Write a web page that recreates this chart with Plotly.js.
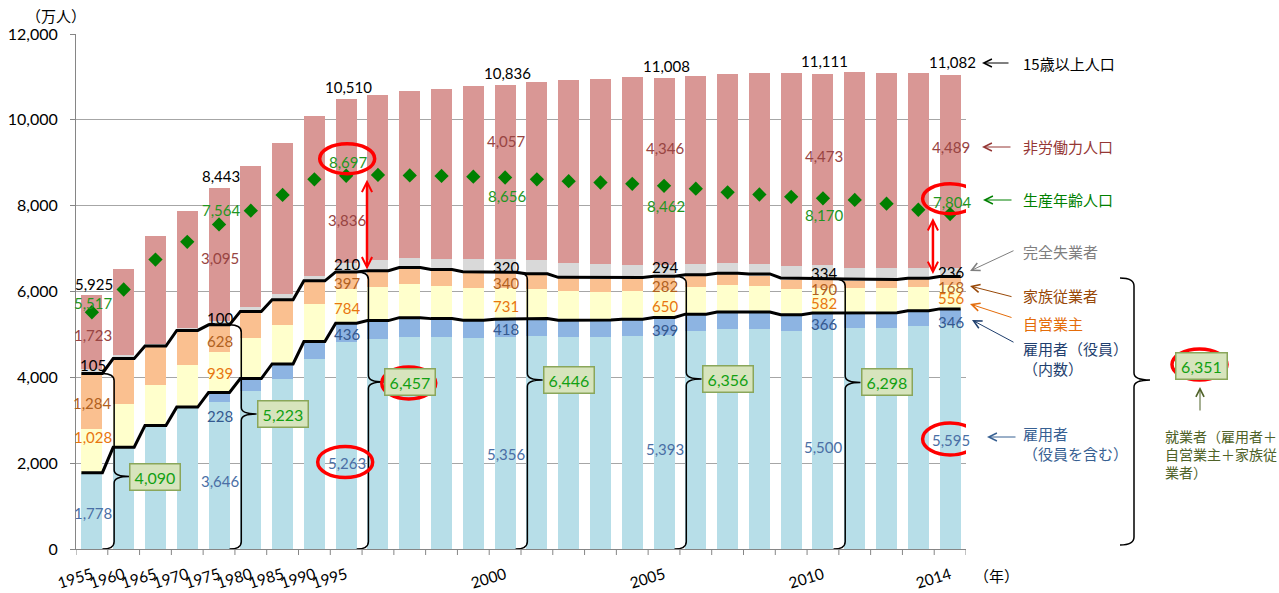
<!DOCTYPE html>
<html><head><meta charset="utf-8">
<script src="https://cdn.plot.ly/plotly-3.0.1.min.js"></script>
<style>html,body{margin:0;padding:0;background:#fff;}#chart{width:1279px;height:593px;}</style>
</head><body><div id="chart"></div>
<script>
// ---------------- DATA (万人) ----------------
const years = ['1955','1960','1965','1970','1975','1980','1985','1990','1995','1996','1997','1998','1999','2000','2001','2002','2003','2004','2005','2006','2007','2008','2009','2010','2011','2012','2013','2014'];
const tickYears = ['1955','1960','1965','1970','1975','1980','1985','1990','1995','2000','2005','2010','2014'];
const labelYears = ['1955','1975','1995','2000','2005','2010','2014'];
const boxYears = ['1955','1975','1995','2000','2005','2010'];
// 15歳以上人口
const pop15 = [5925,6520,7287,7885,8443,8932,9465,10089,10510,10571,10661,10728,10783,10836,10886,10927,10962,10990,11008,11030,11066,11086,11099,11111,11117,11098,11088,11082];
// 生産年齢人口
const workingAge = [5517,6047,6744,7157,7564,7884,8251,8614,8697,8716,8704,8692,8676,8656,8614,8571,8540,8508,8462,8395,8312,8260,8205,8170,8134,8046,7905,7804];
// 非労働力人口
const nonLabor = [1723,2009,2500,2738,3095,3293,3521,3725,3836,3847,3878,3963,4031,4057,4159,4262,4321,4376,4346,4382,4404,4449,4504,4473,4559,4556,4539,4489];
// 完全失業者
const unemployed = [105,75,57,59,100,114,156,134,210,225,230,279,317,320,340,359,350,313,294,275,257,265,336,334,302,285,265,236];
// 家族従業者
const familyWorkers = [1284,1060,915,805,628,603,559,517,397,383,370,357,350,340,325,305,296,290,282,268,254,239,207,190,174,182,174,168];
// 自営業主
const selfEmployed = [1028,1006,939,977,939,951,916,878,784,794,792,761,754,731,693,670,660,656,650,633,628,609,592,582,570,571,557,556];
// 雇用者（役員）（内数）
const officers = [null,null,null,null,228,282,345,400,436,440,444,430,420,418,405,400,395,398,399,397,392,388,380,366,362,355,350,346];
// 雇用者（役員を含む）
const employees = [1778,2370,2876,3306,3646,3971,4313,4835,5263,5322,5391,5368,5331,5356,5369,5331,5335,5355,5393,5472,5523,5524,5460,5500,5512,5504,5553,5595];
// 就業者
const employed = [4090,4436,4730,5094,5223,5536,5807,6249,6457,6486,6557,6514,6462,6446,6412,6330,6316,6329,6356,6389,6427,6409,6314,6298,6293,6280,6311,6351];

// ---------------- LAYOUT POSITIONS (not data) ----------------
// label y-positions (axis units) for labelYears
const posGreen   = [5732,7899,9024,8232,7999,7782,8092];
const posNonLab  = [4986,6773,7666,9513,9336,9157,9374];
const posUnemp   = [4287,5375,6641,6578,6564,6424,6461];
const posFamily  = [3409,4853,6205,6191,6135,6065,6112];
const posSelf    = [2617,4094,5608,5669,5669,5739,5841];
const posOfficer = [null,3099,5010,5119,5103,5243,5296];
const posEmpl    = [832,1592,2004,2214,2323,2384,2540];
const posBox     = [1689,3146,3891,3938,3961,3880];

const C = {
  lblue:'#B7DEE8', dblue:'#8DB4E2', yellow:'#FFFFCC', peach:'#FAC090', grey:'#D9D9D9', pink:'#D99795',
  green:'#008000', tGreen:'#1F961F', tNon:'#984442', tFam:'#B0601E', tSelf:'#E8760F', tOff:'#34598F', tEmp:'#4A6FA5',
  axis:'#868686', grid:'#A6A6A6'
};
const FONT = 'Lato, "Noto Sans CJK JP", sans-serif';
const JP = '"Noto Sans CJK JP", Lato, sans-serif';
const fmt = v => v.toLocaleString('en-US');
const X = years.map((_, i) => i);
const idx = y => years.indexOf(y);

// plot geometry helpers for out-of-plot decorations
const L = 76, T = 34, W = 890, H = 515;
const PX = x => (x - L) / W;
const PY = y => (T + H - y) / H;

// ---------------- TRACES ----------------
const bar = (y, color) => ({type:'bar', x:X, y:y, marker:{color:color, line:{width:0}}, hoverinfo:'skip'});
const traces = [
  bar(employees.map((v, i) => v - (officers[i] || 0)), C.lblue),
  bar(officers.map(v => v || 0), C.dblue),
  bar(selfEmployed, C.yellow),
  bar(familyWorkers, C.peach),
  bar(unemployed, C.grey),
  bar(nonLabor, C.pink)
];
function stepLine(vals) {
  const xs = [], ys = [];
  vals.forEach((v, i) => { xs.push(i - 0.33, i + 0.33); ys.push(v, v); });
  return {type:'scatter', mode:'lines', x:xs, y:ys, line:{color:'#000', width:3}, hoverinfo:'skip'};
}
traces.push(stepLine(employees));
traces.push(stepLine(employed));
traces.push({type:'scatter', mode:'markers', x:X, y:workingAge,
  marker:{symbol:'diamond', size:11, color:C.green}, hoverinfo:'skip'});

// ---------------- ANNOTATIONS ----------------
const ann = [];
const lbl = (x, y, text, color, extra) => ann.push(Object.assign({x:x, y:y, xref:'x', yref:'y', text:text, showarrow:false,
  font:{family:FONT, size:15, color:color}, xanchor:'center', yanchor:'middle', xshift:1}, extra || {}));

labelYears.forEach((yr, k) => {
  const i = idx(yr);
  lbl(i, pop15[i], fmt(pop15[i]), '#000', {yanchor:'bottom', xshift:2});
  lbl(i, posGreen[k], fmt(workingAge[i]), C.tGreen, {xshift:2});
  lbl(i, posNonLab[k], fmt(nonLabor[i]), C.tNon);
  lbl(i, posUnemp[k], fmt(unemployed[i]), '#000');
  lbl(i, posFamily[k], fmt(familyWorkers[i]), C.tFam);
  lbl(i, posSelf[k], fmt(selfEmployed[i]), C.tSelf);
  if (officers[i] != null) lbl(i, posOfficer[k], fmt(officers[i]), C.tOff);
  lbl(i, posEmpl[k], fmt(employees[i]), C.tEmp);
});

// employed boxes + braces
const shapes = [];
const boxStyle = {showarrow:false, bgcolor:'#D7E4BD', bordercolor:'#8AA65A', borderwidth:1.5, borderpad:0,
  width:49, height:25, font:{family:FONT, size:16, color:'#12A012'}, xanchor:'center', yanchor:'middle'};
function bracePath(xe, xv, xn, top, yn, bot, ry, rn) {
  return `M${xe},${top} Q${xv},${top} ${xv},${top - ry} L${xv},${yn + rn} Q${xv},${yn} ${xn},${yn} ` +
         `Q${xv},${yn} ${xv},${yn - rn} L${xv},${bot + ry} Q${xv},${bot} ${xe},${bot}`;
}
boxYears.forEach((yr, k) => {
  const i = idx(yr);
  ann.push(Object.assign({x:i + 2.0, y:posBox[k], xref:'x', yref:'y', text:fmt(employed[i])}, boxStyle));
  shapes.push({type:'path', xref:'x', yref:'y', layer:'above',
    path: bracePath(i + 0.33, i + 0.70, i + 1.18, employed[i], posBox[k], 0, 170, 150),
    line:{color:'#000', width:1.5}});
});
// right-side summary box for 2014
const last = years.length - 1;
ann.push(Object.assign({x:PX(1201.5), y:PY(365.5), xref:'paper', yref:'paper', text:fmt(employed[last])}, boxStyle, {width:50}));
shapes.push({type:'path', xref:'paper', yref:'paper', layer:'above',
  path: `M${PX(1120)},${PY(278)} Q${PX(1134)},${PY(278)} ${PX(1134)},${PY(286)} L${PX(1134)},${PY(373)} ` +
        `Q${PX(1134)},${PY(380)} ${PX(1150)},${PY(380)} Q${PX(1134)},${PY(380)} ${PX(1134)},${PY(387)} ` +
        `L${PX(1134)},${PY(537)} Q${PX(1134)},${PY(545)} ${PX(1120)},${PY(545)}`,
  line:{color:'#000', width:1.5}});

// red ellipses
const ell = (xref, yref, xa, ya, w, h, dx, dy) => shapes.push({type:'circle', xref:xref, yref:yref, layer:'above',
  xsizemode:'pixel', ysizemode:'pixel', xanchor:xa, yanchor:ya,
  x0:-w / 2 + (dx || 0), x1:w / 2 + (dx || 0), y0:-h / 2 + (dy || 0), y1:h / 2 + (dy || 0),
  line:{color:'#FF0000', width:3.5}});
ell('x', 'y', idx('1995'), posGreen[2], 55, 30, 1, 3);
ell('x', 'y', idx('1995'), posEmpl[2], 55, 31, -1, 1);
ell('x', 'y', idx('1995') + 2.0, posBox[2], 54, 32, -1, -1);
ell('x', 'y', last, posGreen[6], 55, 30, 0, 3);
ell('x', 'y', last, posEmpl[6], 55, 32, 0, 1);
ell('paper', 'paper', PX(1201.5), PY(365.5), 55, 31, -2, 1);

// red double arrows (gap between 生産年齢人口 and 就業者)
[[idx('1995'), 0.655], [last, -0.54]].forEach(([i, off]) => {
  ann.push({x:i + off, y:workingAge[i], ax:i + off, ay:employed[i], xref:'x', yref:'y', axref:'x', ayref:'y',
    text:'', showarrow:true, arrowside:'end+start', arrowhead:5, startarrowhead:5,
    arrowsize:0.8, startarrowsize:0.8, arrowwidth:2.5, arrowcolor:'#FF0000', standoff:4, startstandoff:1});
});

// x tick marks at category boundaries
for (let k = 0; k <= years.length; k++) {
  shapes.push({type:'line', xref:'x', yref:'paper', x0:k - 0.5, x1:k - 0.5, y0:0, y1:-6 / H,
    line:{color:C.axis, width:1}, layer:'above'});
}

// right-hand legend texts + arrows
const side = [
  {t:'15歳以上人口', c:'#000', y:63, tail:[1010, 63], head:[982, 63]},
  {t:'非労働力人口', c:'#953735', y:147, tail:[1012, 147], head:[982, 147]},
  {t:'生産年齢人口', c:'#008000', y:200, tail:[1013, 200], head:[983, 200]},
  {t:'完全失業者', c:'#7F7F7F', y:252, tail:[1015, 250], head:[970, 271]},
  {t:'家族従業者', c:'#984807', y:295, tail:[1013, 297], head:[970, 286]},
  {t:'自営業主', c:'#E46C0A', y:323, tail:[1013, 318], head:[970, 304]},
  {t:'雇用者（役員）<br>（内数）', c:'#1F3F6E', y:358, tail:[1015, 343], head:[972, 320]},
  {t:'雇用者<br>（役員を含む）', c:'#376092', y:443.5, tail:[1017, 437], head:[987, 437]}
];
side.forEach(s => {
  ann.push({xref:'paper', yref:'paper', x:PX(1021), y:PY(s.y), text:s.t, showarrow:false, align:'left',
    xanchor:'left', yanchor:'middle', font:{family:JP, size:15, color:s.c}});
  ann.push({xref:'paper', yref:'paper', x:PX(s.head[0]), y:PY(s.head[1]), ax:s.tail[0] - s.head[0], ay:s.tail[1] - s.head[1],
    axref:'pixel', ayref:'pixel', text:'', showarrow:true, arrowhead:5, arrowsize:1.6, arrowwidth:1, arrowcolor:s.c,
    standoff:0});
});
ann.push({xref:'paper', yref:'paper', x:PX(1163), y:PY(454), text:'就業者（雇用者＋<br>自営業主＋家族従<br>業者）',
  showarrow:false, align:'left', xanchor:'left', yanchor:'middle', font:{family:JP, size:14, color:'#4F6228'}});
ann.push({xref:'paper', yref:'paper', x:PX(1200), y:PY(387), ax:0, ay:25, axref:'pixel', ayref:'pixel', text:'',
  showarrow:true, arrowhead:5, arrowsize:1.6, arrowwidth:1, arrowcolor:'#4F6228'});
// unit labels
ann.push({xref:'paper', yref:'paper', x:PX(24), y:PY(15), text:'（万人）', showarrow:false,
  xanchor:'left', yanchor:'middle', font:{family:JP, size:15, color:'#000'}});
ann.push({xref:'paper', yref:'paper', x:PX(996), y:PY(575), text:'（年）', showarrow:false,
  xanchor:'center', yanchor:'middle', font:{family:JP, size:15, color:'#000'}});

// ---------------- LAYOUT ----------------
const layout = {
  width:1279, height:593, margin:{l:L, r:1279 - L - W, t:T, b:593 - T - H},
  barmode:'stack', bargap:0.34, showlegend:false,
  paper_bgcolor:'#fff', plot_bgcolor:'#fff',
  font:{family:FONT, size:15, color:'#000'},
  xaxis:{range:[-0.5, years.length - 0.5], tickmode:'array', tickvals:tickYears.map(idx), ticktext:tickYears,
    tickangle:-17, ticks:'', showgrid:false, zeroline:false, showline:true, linecolor:C.axis, linewidth:1,
    tickfont:{family:FONT, size:15.5, color:'#000'}, ticklabelstandoff:10, fixedrange:true},
  yaxis:{range:[0, 12000], tickmode:'array', tickvals:[0,2000,4000,6000,8000,10000,12000], tickformat:',d',
    showgrid:true, gridcolor:C.grid, gridwidth:1, zeroline:false, showline:true, linecolor:C.axis, linewidth:1,
    ticks:'outside', ticklen:5, tickcolor:C.axis, tickfont:{family:FONT, size:16, color:'#000'},
    ticklabelstandoff:9, fixedrange:true},
  annotations:ann, shapes:shapes
};
Plotly.newPlot('chart', traces, layout, {displayModeBar:false, staticPlot:true});
</script></body></html>
